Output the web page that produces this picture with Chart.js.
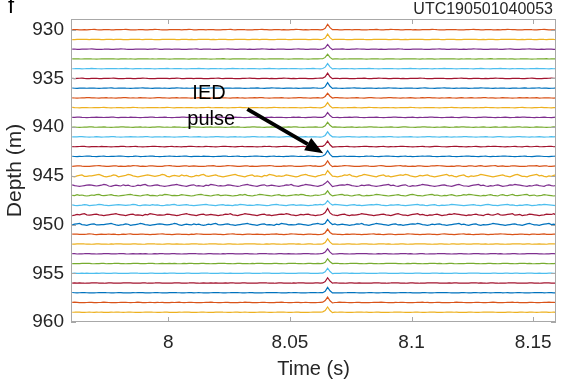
<!DOCTYPE html>
<html>
<head>
<meta charset="utf-8">
<script src="https://cdn.jsdelivr.net/npm/chart.js@4.4.1/dist/chart.umd.min.js"></script>
<style>
  html, body { margin: 0; padding: 0; background: #fff; }
  #wrap { width: 570px; height: 385px; }
</style>
</head>
<body>
<div id="wrap"><canvas id="traces"></canvas></div>
<script>
// ---- data ----------------------------------------------------------
// one trace per channel depth (m)
const depths = [930, 931, 932, 933, 934, 935, 936, 937, 938, 939,
                940, 941, 942, 943, 944, 945, 946, 947, 948, 949,
                950, 951, 952, 953, 954, 955, 956, 957, 958, 959];

// noise level of each trace (m of offset on the plot)
const traceGain = [0.04, 0.03, 0.04, 0.03, 0.03, 0.04, 0.04, 0.04, 0.03, 0.04,
                   0.04, 0.04, 0.05, 0.05, 0.07, 0.20, 0.16, 0.13, 0.10, 0.15,
                   0.15, 0.06, 0.04, 0.04, 0.04, 0.03, 0.04, 0.04, 0.04, 0.03];

// where each trace starts reading the noise record
const traceOffset = [3, 41, 17, 66, 29, 8, 52, 74, 12, 35,
                     60, 21, 47, 5, 70, 14, 38, 57, 26, 63,
                     9, 44, 77, 31, 19, 55, 2, 68, 24, 49];

// height of the pulse on each trace
const pulseAmp = [0.55, 0.55, 0.50, 0.50, 0.50, 0.55, 0.55, 0.50, 0.50, 0.50,
                  0.50, 0.50, 0.55, 0.55, 0.50, 0.55, 0.50, 0.50, 0.50, 0.55,
                  0.60, 0.50, 0.50, 0.50, 0.50, 0.50, 0.55, 0.55, 0.55, 0.55];

// pulse waveform, 1 ms samples starting at sample pulseStart
const pulseShape = [0.04, 0.30, 1.00, 0.35, -0.05];
const pulseStart = 103;

// background noise record, digits 0..8 around a 4 baseline
const noiseDigits = [
  "4536453243", "5674324563", "3445675323", "4652345764", "3234565434",
  "5763245436", "4532354674", "3456432345", "6754324563", "4325476534",
  "3465432356", "7543245634", "5432346574", "3245765432", "4563423456",
  "5764323545", "6432345674", "5324563243", "4576543234", "5643246753",
  "3245674532", "4356423465", "7654324356", "4325643574", "3456734523",
  "4654323465", "5734562345", "4325674352"
].join("");

// sample grid (s)
const t0 = 7.9605;
const dt = 0.001;
const nSamples = 200;

const xTicks = [8, 8.05, 8.1, 8.15];
const yTicks = [930, 935, 940, 945, 950, 955, 960];

const palette = ['#0072BD', '#D95319', '#EDB120', '#7E2F8E', '#77AC30', '#4DBEEE', '#A2142F'];

// ---- build datasets ------------------------------------------------
const times = [];
for (let i = 0; i < nSamples; i++) times.push(+(t0 + i * dt).toFixed(4));

const datasets = depths.map((depth, k) => {
  const pts = times.map((t, i) => {
    const n = (Number(noiseDigits[traceOffset[k] + i]) - 4) / 4;
    const j = i - pulseStart;
    const p = (j >= 0 && j < pulseShape.length) ? pulseShape[j] : 0;
    // depth axis points down, so upward swing is subtracted
    return { x: t, y: depth - (traceGain[k] * n + pulseAmp[k] * p) };
  });
  return {
    data: pts,
    borderColor: palette[(depth - 929) % 7],
    borderWidth: 1.2,
    pointRadius: 0,
    tension: 0
  };
});

// ---- decorations: box, inward ticks, annotation, header --------------
const FONT = '"Liberation Sans", Arial, sans-serif';

const decor = {
  id: 'decor',
  afterDraw(chart) {
    const { ctx, chartArea: a, scales } = chart;
    const xs = scales.x, ys = scales.y;
    ctx.save();

    ctx.strokeStyle = '#a8a8a8';
    ctx.lineWidth = 1;
    ctx.strokeRect(a.left + 0.5, a.top + 0.5, a.right - a.left - 1, a.bottom - a.top - 1);

    ctx.beginPath();
    xTicks.forEach(v => {
      const px = Math.round(xs.getPixelForValue(v)) + 0.5;
      ctx.moveTo(px, a.bottom); ctx.lineTo(px, a.bottom - 5);
      ctx.moveTo(px, a.top); ctx.lineTo(px, a.top + 5);
    });
    yTicks.forEach(v => {
      const py = Math.round(ys.getPixelForValue(v)) + 0.5;
      ctx.moveTo(a.left, py); ctx.lineTo(a.left + 5, py);
      ctx.moveTo(a.right, py); ctx.lineTo(a.right - 5, py);
    });
    ctx.stroke();

    // "IED pulse" label and arrow
    ctx.fillStyle = '#000';
    ctx.font = '20px ' + FONT;
    ctx.textBaseline = 'middle';
    ctx.textAlign = 'left';
    ctx.fillText('IED', xs.getPixelForValue(8.0099), ys.getPixelForValue(936.5));
    ctx.fillText('pulse', xs.getPixelForValue(8.0078), ys.getPixelForValue(939.2));

    const x1 = xs.getPixelForValue(8.0325), y1 = ys.getPixelForValue(938.15);
    const x2 = xs.getPixelForValue(8.0637), y2 = ys.getPixelForValue(942.67);
    const ang = Math.atan2(y2 - y1, x2 - x1);
    const head = 18, half = 7;
    const bx = x2 - head * Math.cos(ang), by = y2 - head * Math.sin(ang);
    ctx.strokeStyle = '#000';
    ctx.lineWidth = 4;
    ctx.beginPath();
    ctx.moveTo(x1, y1); ctx.lineTo(bx, by);
    ctx.stroke();
    ctx.beginPath();
    ctx.moveTo(x2, y2);
    ctx.lineTo(bx + half * Math.sin(ang), by - half * Math.cos(ang));
    ctx.lineTo(bx - half * Math.sin(ang), by + half * Math.cos(ang));
    ctx.closePath();
    ctx.fill();

    // record id and panel letter
    ctx.fillStyle = '#262626';
    ctx.font = '16px ' + FONT;
    ctx.textAlign = 'right';
    ctx.fillText('UTC190501040053', a.right - 3, 10);
    ctx.fillStyle = '#000';
    ctx.font = '22px ' + FONT;
    ctx.textAlign = 'left';
    ctx.textBaseline = 'alphabetic';
    ctx.fillText('f', 8, 13);

    ctx.restore();
  }
};

const tickFont = { family: FONT, size: 19 };

new Chart(document.getElementById('traces'), {
  type: 'line',
  data: { datasets },
  options: {
    responsive: true,
    maintainAspectRatio: false,
    animation: false,
    parsing: false,
    normalized: true,
    layout: { padding: { left: 0, right: 14, top: 19, bottom: 0 } },
    plugins: { legend: { display: false }, tooltip: { enabled: false } },
    scales: {
      x: {
        type: 'linear',
        min: 7.96,
        max: 8.1594,
        grid: { display: false, drawTicks: false },
        border: { display: false },
        afterBuildTicks: s => { s.ticks = xTicks.map(v => ({ value: v })); },
        afterFit: s => { s.height = 63; },
        ticks: {
          autoSkip: false, maxRotation: 0, padding: 9,
          color: '#262626', font: tickFont,
          callback: v => String(v)
        },
        title: {
          display: true, text: 'Time (s)', color: '#262626',
          font: { family: FONT, size: 20 }, padding: { top: 0, bottom: 4 }
        }
      },
      y: {
        type: 'linear',
        reverse: true,
        min: 928.9,
        max: 960,
        grid: { display: false, drawTicks: false },
        border: { display: false },
        afterBuildTicks: s => { s.ticks = yTicks.map(v => ({ value: v })); },
        afterFit: s => { s.width = 71; },
        ticks: {
          autoSkip: false, padding: 7,
          color: '#262626', font: tickFont,
          callback: v => String(v)
        },
        title: {
          display: true, text: 'Depth (m)', color: '#262626',
          font: { family: FONT, size: 21 }, padding: { top: 3, bottom: 0 }
        }
      }
    }
  },
  plugins: [decor]
});
</script>
</body>
</html>
